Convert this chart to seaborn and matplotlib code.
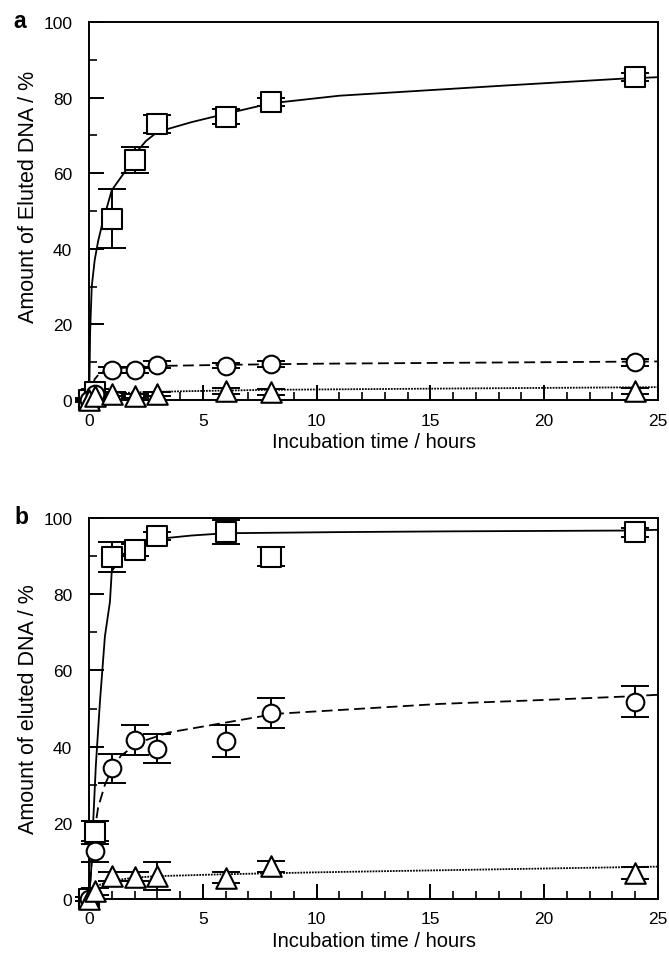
import numpy as np
import pandas as pd
import matplotlib
matplotlib.use("Agg")
import matplotlib.pyplot as plt
import seaborn as sns
from matplotlib.ticker import MultipleLocator

# ---------------- data ----------------
t = [0, 0.25, 1, 2, 3, 6, 8, 24]

# panel a
a_sq = [0, 2, 48, 63.5, 73, 75, 78.8, 85.5]
a_sq_err = [0.5, 1, 7.8, 3.4, 2.4, 2.0, 1.0, 1.0]
a_ci = [0, 1.5, 8.0, 8.0, 9.3, 9.1, 9.5, 10.0]
a_ci_err = [0.3, 0.5, 0.8, 0.8, 0.9, 0.7, 0.9, 0.9]
a_tr = [0, 1.0, 1.6, 1.1, 1.6, 2.5, 2.0, 2.5]
a_tr_err = [0.3, 0.5, 0.6, 0.6, 0.6, 0.8, 0.8, 0.8]

# fitted curves, panel a
a_fit_sq_t = [0, 0.02, 0.05, 0.12, 0.25, 0.4, 0.6, 1, 1.65, 2, 2.5, 3, 4.5, 6, 8, 11, 18.3, 23.4, 25]
a_fit_sq_y = [0, 5, 18, 30, 37, 42, 47, 55.5, 61, 65, 68.5, 70.9, 73.5, 75.7, 78.5, 80.5, 83.2, 85, 85.4]
a_fit_ci_t = [0, 0.1, 0.25, 0.5, 1, 2, 3, 6, 10, 15, 20, 25]
a_fit_ci_y = [0, 3, 5.5, 7.3, 8.2, 8.8, 9.0, 9.3, 9.6, 9.8, 10.0, 10.2]
a_fit_tr_t = [0, 0.25, 0.5, 1, 2, 4, 8, 15, 25]
a_fit_tr_y = [0, 1.0, 1.4, 1.7, 2.0, 2.3, 2.7, 3.0, 3.4]

# panel b
b_sq = [0, 17.5, 89.7, 91.6, 95.2, 96.3, 89.8, 96.2]
b_sq_err = [0.5, 3.0, 4.0, 1.5, 1.0, 3.2, 2.5, 1.2]
b_ci = [0, 12.5, 34.3, 41.7, 39.5, 41.6, 48.8, 51.8]
b_ci_err = [0.5, 2.7, 3.8, 3.9, 3.9, 4.2, 4.0, 4.0]
b_tr = [0, 2.0, 6.0, 5.9, 6.0, 5.6, 8.6, 6.8]
b_tr_err = [0.5, 1.0, 1.2, 1.2, 3.7, 1.5, 1.5, 1.5]

b_fit_sq_t = [0, 0.1, 0.19, 0.3, 0.48, 0.7, 0.92, 1.0, 1.5, 2, 3, 4.5, 6, 11, 16, 23.4, 25]
b_fit_sq_y = [0, 8, 21, 35, 51.7, 69, 78, 86, 90.5, 92.4, 94.5, 95.4, 96.0, 96.3, 96.5, 96.7, 96.9]
b_fit_ci_t = [0, 0.1, 0.2, 0.4, 0.7, 1, 1.4, 2.2, 3.5, 6, 8.2, 11, 15.4, 19.8, 23.4, 25]
b_fit_ci_y = [0, 8, 16, 24, 30, 34, 37.6, 41.1, 43.7, 46.3, 48.6, 49.6, 51.2, 52.2, 53.1, 53.6]
b_fit_tr_t = [0, 0.25, 0.5, 1, 2, 3, 6, 10, 15, 20, 25]
b_fit_tr_y = [0, 2.5, 3.8, 4.8, 5.6, 6.0, 6.5, 7.0, 7.5, 8.0, 8.5]

x_ticks = [0, 5, 10, 15, 20, 25]
y_ticks = [0, 20, 40, 60, 80, 100]

# ---------------- style ----------------
sns.set_style("ticks")
plt.rcParams['font.family'] = ['Liberation Sans', 'DejaVu Sans']
plt.rcParams['axes.linewidth'] = 1.4
for k in ['text.color', 'axes.labelcolor', 'xtick.color', 'ytick.color', 'axes.edgecolor']:
    plt.rcParams[k] = 'black'

fig = plt.figure(figsize=(6.69, 9.62), dpi=100)
ax_a = fig.add_axes([89/669, 1-401/962, 569/669, 378/962])
ax_b = fig.add_axes([89/669, 1-900/962, 569/669, 381/962])

MS = 190  # marker area (pt^2)


def draw_panel(ax, sq, sqe, ci, cie, tr, tre, fits, ylabel, ylab_y):
    styles = ['-', (0, (6, 3)), (0, (1, 0.6))]
    for (ft, fy), ls in zip(fits, styles):
        sns.lineplot(x=ft, y=fy, ax=ax, color='black', linewidth=1.3,
                     linestyle=ls, zorder=2, estimator=None, sort=True)
    for vals, errs in [(sq, sqe), (ci, cie), (tr, tre)]:
        ax.errorbar(t, vals, yerr=errs, fmt='none', ecolor='black',
                    elinewidth=1.4, capsize=10, capthick=1.4, zorder=3,
                    clip_on=False)
    for vals, mk, s in [(sq, 's', MS), (ci, 'o', MS * 0.85), (tr, '^', MS * 1.15)]:
        sns.scatterplot(x=t, y=vals, ax=ax, marker=mk, s=s, facecolor='white',
                        edgecolor='black', linewidth=1.5, zorder=4,
                        clip_on=False)
    ax.set_xlim(0, 25)
    ax.set_ylim(0, 100)
    ax.set_xticks(x_ticks)
    ax.set_yticks(y_ticks)
    ax.xaxis.set_minor_locator(MultipleLocator(1))
    ax.yaxis.set_minor_locator(MultipleLocator(10))
    ax.tick_params(which='major', direction='in', length=11, width=1.4,
                   labelsize=12.5, top=False, right=False)
    ax.tick_params(axis='y', which='major', pad=12)
    ax.tick_params(axis='x', which='major', pad=9)
    ax.tick_params(which='minor', direction='in', length=6, width=1.2,
                   top=False, right=False)
    for sp in ax.spines.values():
        sp.set_visible(True)
        sp.set_linewidth(1.4)
    ax.set_xlabel('Incubation time / hours', fontsize=14.5, labelpad=3)
    ax.set_ylabel(ylabel, fontsize=15.5)
    ax.yaxis.set_label_coords(-50/569, ylab_y)


draw_panel(ax_a, a_sq, a_sq_err, a_ci, a_ci_err, a_tr, a_tr_err,
           [(a_fit_sq_t, a_fit_sq_y), (a_fit_ci_t, a_fit_ci_y), (a_fit_tr_t, a_fit_tr_y)],
           'Amount of Eluted DNA / %', (401-197)/378)
draw_panel(ax_b, b_sq, b_sq_err, b_ci, b_ci_err, b_tr, b_tr_err,
           [(b_fit_sq_t, b_fit_sq_y), (b_fit_ci_t, b_fit_ci_y), (b_fit_tr_t, b_fit_tr_y)],
           'Amount of eluted DNA / %', 0.5)

fig.text(20/669, 1-22/962, 'a', fontsize=16.5, fontweight='bold', ha='center', va='center')
fig.text(21/669, 1-517/962, 'b', fontsize=16.5, fontweight='bold', ha='center', va='center')

fig.savefig('out.png', dpi=100)
